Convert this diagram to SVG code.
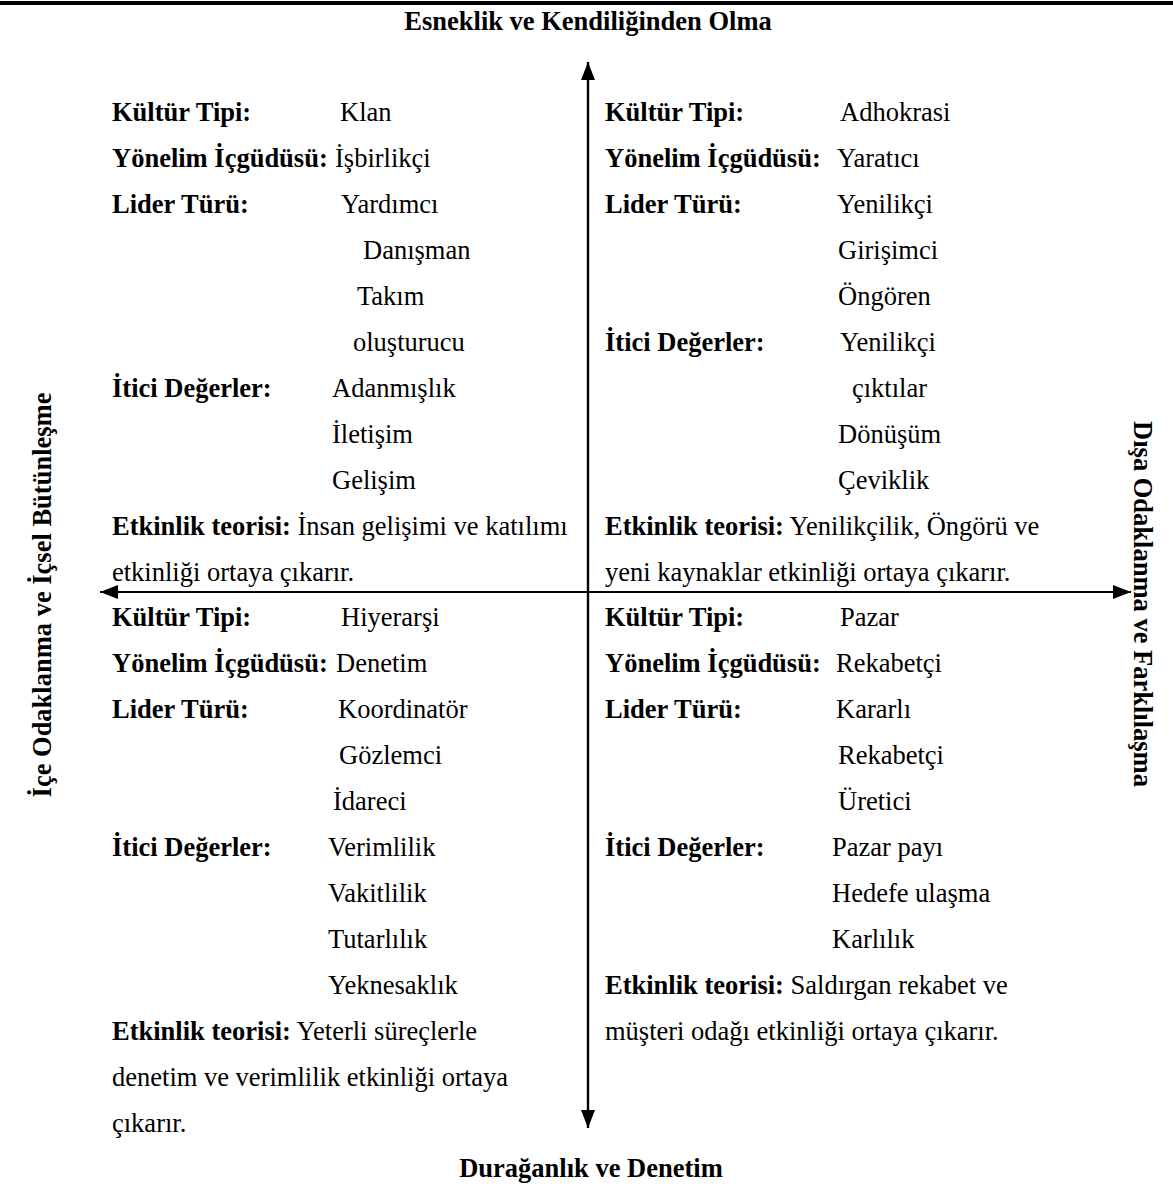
<svg xmlns="http://www.w3.org/2000/svg" width="1173" height="1189" viewBox="0 0 1173 1189">
<style>
text{font-family:"Liberation Serif","Times New Roman",serif;font-size:26.5px;fill:#000}
.b{font-weight:bold}
.ax{stroke:#000;stroke-width:2.2;fill:none}
</style>
<defs>
<marker id="a" viewBox="0 0 18 14" refX="18" refY="7" markerWidth="18" markerHeight="14" markerUnits="userSpaceOnUse" orient="auto">
<path d="M0,0 L18,7 L0,14 z" fill="#000"/>
</marker>
</defs>
<rect width="1173" height="1189" fill="#fff"/>
<line x1="0" y1="3" x2="1173" y2="3" stroke="#000" stroke-width="4"/>
<g id="axis-labels" class="b">
<text id="top-label" x="588" y="30" text-anchor="middle">Esneklik ve Kendiliğinden Olma</text>
<text id="bottom-label" x="591" y="1177" text-anchor="middle">Durağanlık ve Denetim</text>
<text id="left-label" transform="translate(51,595) rotate(-90)" text-anchor="middle">İçe Odaklanma ve İçsel Bütünleşme</text>
<text id="right-label" transform="translate(1134,604) rotate(90)" text-anchor="middle">Dışa Odaklanma ve Farklılaşma</text>
</g>
<g id="connectors">
<line class="ax" x1="588" y1="1128" x2="588" y2="62" marker-end="url(#a)"/>
<line class="ax" x1="588" y1="62" x2="588" y2="1128" marker-end="url(#a)"/>
<line class="ax" x1="1131" y1="592" x2="100" y2="592" marker-end="url(#a)"/>
<line class="ax" x1="100" y1="592" x2="1131" y2="592" marker-end="url(#a)"/>
</g>
<g id="clan">
<text class="b" x="112" y="121">Kültür Tipi:</text><text x="340" y="121">Klan</text>
<text class="b" x="112" y="167">Yönelim İçgüdüsü:</text><text x="335" y="167">İşbirlikçi</text>
<text class="b" x="112" y="213">Lider Türü:</text><text x="341" y="213">Yardımcı</text>
<text x="363" y="259">Danışman</text>
<text x="357" y="305">Takım</text>
<text x="353" y="351">oluşturucu</text>
<text class="b" x="112" y="397">İtici Değerler:</text><text x="332" y="397">Adanmışlık</text>
<text x="332" y="443">İletişim</text>
<text x="332" y="489">Gelişim</text>
<text x="112" y="535"><tspan class="b">Etkinlik teorisi:</tspan> İnsan gelişimi ve katılımı</text>
<text x="112" y="581">etkinliği ortaya çıkarır.</text>
</g>
<g id="adhocracy">
<text class="b" x="605" y="121">Kültür Tipi:</text><text x="840" y="121">Adhokrasi</text>
<text class="b" x="605" y="167">Yönelim İçgüdüsü:</text><text x="837" y="167">Yaratıcı</text>
<text class="b" x="605" y="213">Lider Türü:</text><text x="837" y="213">Yenilikçi</text>
<text x="838" y="259">Girişimci</text>
<text x="838" y="305">Öngören</text>
<text class="b" x="605" y="351">İtici Değerler:</text><text x="840" y="351">Yenilikçi</text>
<text x="852" y="397">çıktılar</text>
<text x="838" y="443">Dönüşüm</text>
<text x="838" y="489">Çeviklik</text>
<text x="605" y="535"><tspan class="b">Etkinlik teorisi:</tspan> Yenilikçilik, Öngörü ve</text>
<text x="605" y="581">yeni kaynaklar etkinliği ortaya çıkarır.</text>
</g>
<g id="hierarchy">
<text class="b" x="112" y="626">Kültür Tipi:</text><text x="341" y="626">Hiyerarşi</text>
<text class="b" x="112" y="672">Yönelim İçgüdüsü:</text><text x="336" y="672">Denetim</text>
<text class="b" x="112" y="718">Lider Türü:</text><text x="338" y="718">Koordinatör</text>
<text x="339" y="764">Gözlemci</text>
<text x="333" y="810">İdareci</text>
<text class="b" x="112" y="856">İtici Değerler:</text><text x="328" y="856">Verimlilik</text>
<text x="328" y="902">Vakitlilik</text>
<text x="328" y="948">Tutarlılık</text>
<text x="328" y="994">Yeknesaklık</text>
<text x="112" y="1040"><tspan class="b">Etkinlik teorisi:</tspan> Yeterli süreçlerle</text>
<text x="112" y="1086">denetim ve verimlilik etkinliği ortaya</text>
<text x="112" y="1132">çıkarır.</text>
</g>
<g id="market">
<text class="b" x="605" y="626">Kültür Tipi:</text><text x="840" y="626">Pazar</text>
<text class="b" x="605" y="672">Yönelim İçgüdüsü:</text><text x="836" y="672">Rekabetçi</text>
<text class="b" x="605" y="718">Lider Türü:</text><text x="836" y="718">Kararlı</text>
<text x="838" y="764">Rekabetçi</text>
<text x="838" y="810">Üretici</text>
<text class="b" x="605" y="856">İtici Değerler:</text><text x="832" y="856">Pazar payı</text>
<text x="832" y="902">Hedefe ulaşma</text>
<text x="832" y="948">Karlılık</text>
<text x="605" y="994"><tspan class="b">Etkinlik teorisi:</tspan> Saldırgan rekabet ve</text>
<text x="605" y="1040">müşteri odağı etkinliği ortaya çıkarır.</text>
</g>
</svg>
